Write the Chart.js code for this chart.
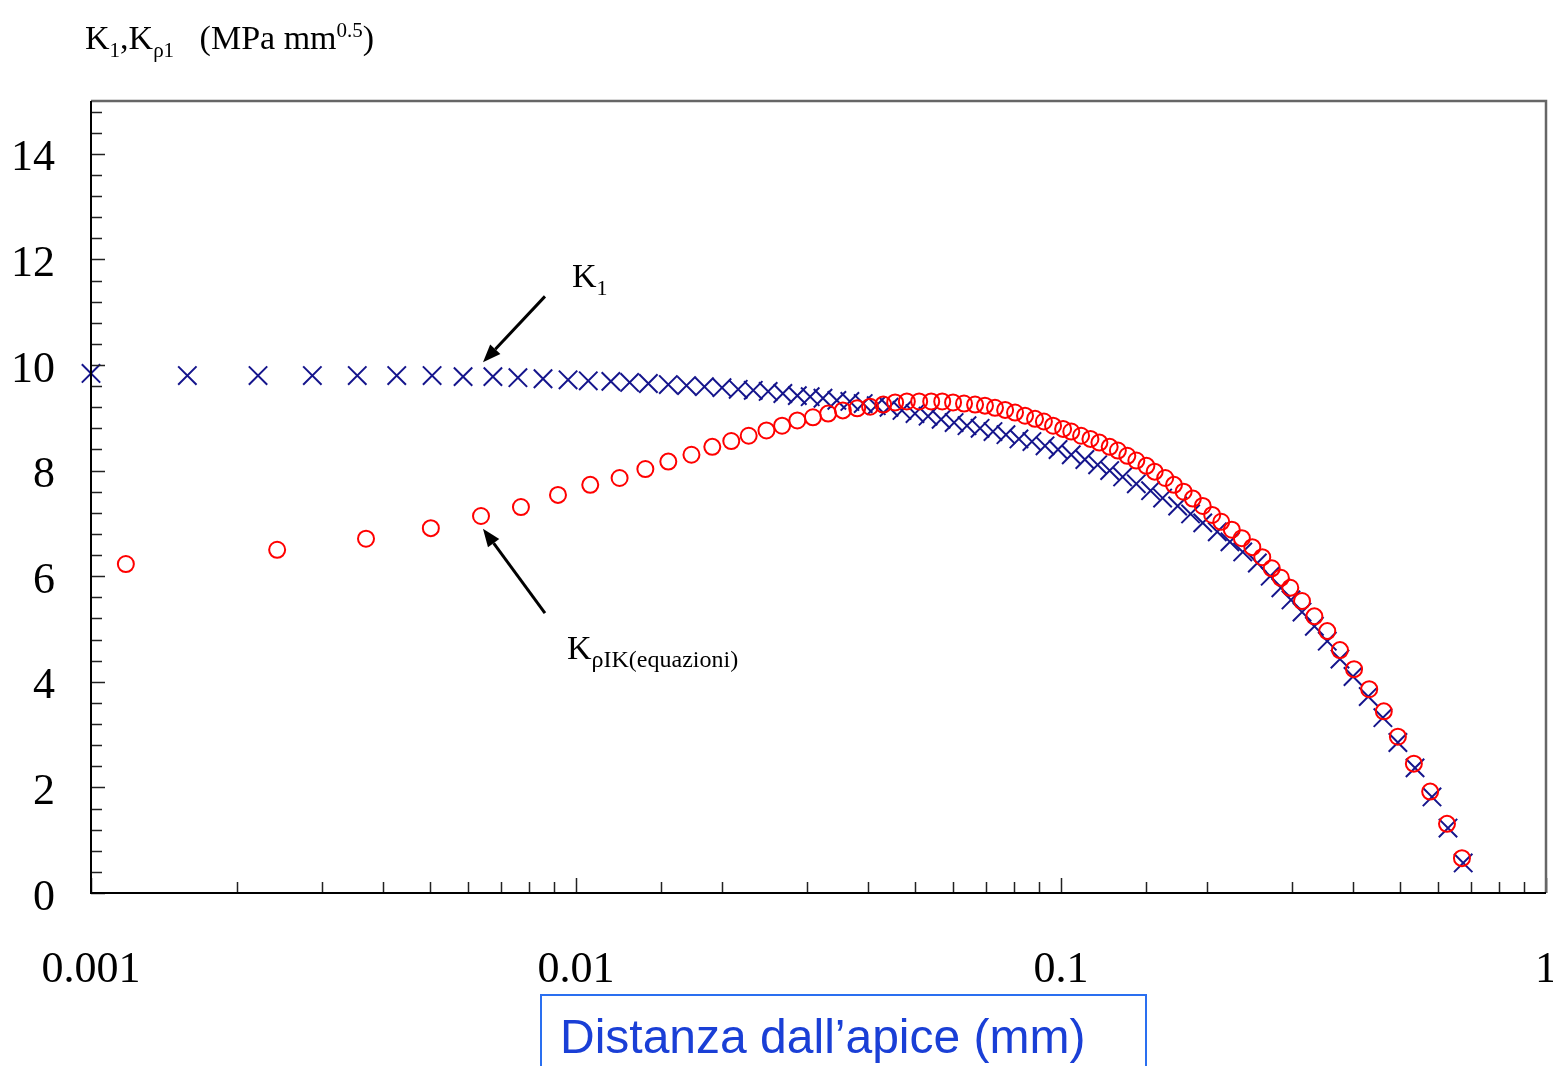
<!DOCTYPE html>
<html lang="it">
<head>
<meta charset="UTF-8">
<title>K1 e K rho - distanza dall'apice</title>
<script src="https://cdn.jsdelivr.net/npm/chart.js"></script>
<style>
  html, body { margin: 0; padding: 0; background: #fff; overflow: hidden; }
  #wrap { position: relative; width: 1553px; height: 1066px; }
  #chart { position: absolute; left: 0; top: 0; }
  .lbl {
    position: absolute;
    font-family: "Liberation Serif", "Times New Roman", serif;
    color: #000;
    white-space: nowrap;
    line-height: 1;
  }
  .lbl sub, .lbl sup { line-height: 0; }
  #ytitle { left: 85px; top: 21px; font-size: 34px; }
  #ytitle sub { font-size: 21px; }
  #ytitle sup { font-size: 21px; }
  #k1 { left: 572px; top: 259px; font-size: 34px; }
  #k1 sub { font-size: 22px; }
  #krho { left: 567px; top: 631px; font-size: 34px; }
  #krho sub { font-size: 24px; }
  #xtitle {
    position: absolute;
    left: 540px; top: 994px; width: 607px; height: 100px;
    box-sizing: border-box;
    border: 2px solid #2a6ff0;
    padding: 17px 0 0 18px;
    font-family: "Liberation Sans", Arial, sans-serif;
    font-size: 48px;
    line-height: 1;
    color: #1a3fd6;
    white-space: nowrap;
  }
</style>
</head>
<body>
<div id="wrap">
  <canvas id="chart" width="1553" height="1066"></canvas>
  <div class="lbl" id="ytitle">K<sub>1</sub>,K<sub>ρ1</sub>&nbsp;&nbsp; (MPa mm<sup>0.5</sup>)</div>
  <div class="lbl" id="k1">K<sub>1</sub></div>
  <div class="lbl" id="krho">K<sub>ρIK(equazioni)</sub></div>
  <div id="xtitle">Distanza dall’apice (mm)</div>
</div>

<script>
// K1 (crosses)
const distK1 = [0.00100, 0.00158, 0.00221, 0.00286, 0.00354, 0.00427, 0.00505, 0.00585, 0.00674, 0.00759,
  0.00855, 0.00963, 0.0106, 0.0118, 0.0129, 0.0141, 0.0155, 0.0169, 0.0184, 0.0200,
  0.0216, 0.0232, 0.0249, 0.0267, 0.0286, 0.0304, 0.0323, 0.0345, 0.0367, 0.0391,
  0.0416, 0.0442, 0.0470, 0.0500, 0.0532, 0.0566, 0.0602, 0.0640, 0.0681, 0.0724,
  0.0770, 0.0819, 0.0871, 0.0927, 0.0986, 0.105, 0.112, 0.119, 0.126, 0.134,
  0.143, 0.153, 0.162, 0.174, 0.185, 0.196, 0.210, 0.223, 0.237, 0.254,
  0.270, 0.284, 0.298, 0.314, 0.333, 0.354, 0.376, 0.400, 0.430, 0.461,
  0.495, 0.537, 0.582, 0.628, 0.675];
const valK1 = [9.84, 9.80, 9.80, 9.80, 9.80, 9.80, 9.80, 9.78, 9.78, 9.76,
  9.74, 9.72, 9.70, 9.69, 9.67, 9.65, 9.63, 9.61, 9.59, 9.57,
  9.54, 9.52, 9.50, 9.46, 9.42, 9.40, 9.37, 9.33, 9.31, 9.27,
  9.23, 9.20, 9.14, 9.08, 9.03, 8.97, 8.91, 8.85, 8.80, 8.74,
  8.68, 8.60, 8.55, 8.47, 8.40, 8.30, 8.21, 8.11, 8.00, 7.88,
  7.75, 7.62, 7.48, 7.33, 7.18, 7.01, 6.84, 6.65, 6.46, 6.25,
  6.00, 5.78, 5.55, 5.32, 5.05, 4.77, 4.43, 4.10, 3.72, 3.32,
  2.85, 2.37, 1.82, 1.23, 0.57];

// K rho IK from the equations (circles)
const distKrho = [0.00118, 0.00242, 0.00369, 0.00502, 0.00637, 0.00770, 0.00918, 0.0107, 0.0123, 0.0139,
  0.0155, 0.0173, 0.0191, 0.0209, 0.0227, 0.0247, 0.0266, 0.0286, 0.0308, 0.0331,
  0.0355, 0.0380, 0.0404, 0.0430, 0.0455, 0.0481, 0.0510, 0.0540, 0.0569, 0.0599,
  0.0631, 0.0665, 0.0697, 0.0731, 0.0767, 0.0804, 0.0843, 0.0884, 0.0922, 0.0963,
  0.101, 0.105, 0.110, 0.115, 0.120, 0.126, 0.131, 0.137, 0.143, 0.150,
  0.156, 0.164, 0.171, 0.179, 0.187, 0.196, 0.205, 0.214, 0.225, 0.236,
  0.248, 0.260, 0.272, 0.284, 0.297, 0.314, 0.333, 0.354, 0.376, 0.402,
  0.432, 0.463, 0.495, 0.534, 0.577, 0.625, 0.671];
const valKrho = [6.23, 6.50, 6.71, 6.91, 7.14, 7.31, 7.54, 7.73, 7.86, 8.03,
  8.17, 8.30, 8.45, 8.56, 8.66, 8.76, 8.85, 8.95, 9.01, 9.08,
  9.14, 9.18, 9.21, 9.25, 9.29, 9.31, 9.31, 9.31, 9.31, 9.29,
  9.27, 9.25, 9.23, 9.19, 9.15, 9.10, 9.04, 8.98, 8.93, 8.85,
  8.79, 8.74, 8.66, 8.60, 8.53, 8.45, 8.38, 8.28, 8.19, 8.09,
  7.98, 7.86, 7.73, 7.60, 7.47, 7.33, 7.16, 7.03, 6.88, 6.72,
  6.55, 6.36, 6.15, 5.97, 5.78, 5.53, 5.24, 4.96, 4.60, 4.24,
  3.86, 3.44, 2.96, 2.45, 1.92, 1.31, 0.66];

const xTickLabels = ['0.001', '0.01', '0.1', '1'];
const yTickLabels = ['0', '2', '4', '6', '8', '10', '12', '14'];

const toPoints = (xs, ys) => xs.map((x, i) => ({ x: x, y: ys[i] }));
const isDecade = v => Math.abs(Math.log10(v) - Math.round(Math.log10(v))) < 1e-6;
const tickFont = { family: '"Liberation Serif", "Times New Roman", serif', size: 44 };

// arrows pointing at the two series (data coordinates)
const arrows = [
  { from: { x: 0.00863, y: 11.30 }, to: { x: 0.00643, y: 10.05 } },
  { from: { x: 0.00863, y: 5.30 }, to: { x: 0.00643, y: 6.90 } }
];

const frameAndTicks = {
  id: 'frameAndTicks',
  afterDraw(chart) {
    const { ctx, chartArea: a, scales: { x, y } } = chart;
    ctx.save();
    // inward tick marks
    ctx.strokeStyle = '#222';
    ctx.lineWidth = 1.5;
    ctx.beginPath();
    x.ticks.forEach(t => {
      const px = Math.round(x.getPixelForValue(t.value)) + 0.5;
      const len = isDecade(t.value) ? 15 : 11;
      ctx.moveTo(px, a.bottom);
      ctx.lineTo(px, a.bottom - len);
    });
    y.ticks.forEach(t => {
      const py = Math.round(y.getPixelForValue(t.value)) + 0.5;
      const len = Math.abs(t.value / 2 - Math.round(t.value / 2)) < 1e-6 ? 14 : 11;
      ctx.moveTo(a.left, py);
      ctx.lineTo(a.left + len, py);
    });
    ctx.stroke();

    // frame: top/right grey, left/bottom black
    ctx.lineWidth = 2.5;
    ctx.strokeStyle = '#666';
    ctx.beginPath();
    ctx.moveTo(a.left, a.top);
    ctx.lineTo(a.right, a.top);
    ctx.lineTo(a.right, a.bottom);
    ctx.stroke();
    ctx.lineWidth = 2;
    ctx.strokeStyle = '#000';
    ctx.beginPath();
    ctx.moveTo(a.left, a.top);
    ctx.lineTo(a.left, a.bottom);
    ctx.lineTo(a.right, a.bottom);
    ctx.stroke();

    // arrows
    ctx.fillStyle = '#000';
    ctx.strokeStyle = '#000';
    ctx.lineWidth = 3;
    arrows.forEach(ar => {
      const x0 = x.getPixelForValue(ar.from.x), y0 = y.getPixelForValue(ar.from.y);
      const x1 = x.getPixelForValue(ar.to.x), y1 = y.getPixelForValue(ar.to.y);
      const ang = Math.atan2(y1 - y0, x1 - x0);
      const head = 18, half = 7;
      const bx = x1 - head * Math.cos(ang), by = y1 - head * Math.sin(ang);
      ctx.beginPath();
      ctx.moveTo(x0, y0);
      ctx.lineTo(bx, by);
      ctx.stroke();
      ctx.beginPath();
      ctx.moveTo(x1, y1);
      ctx.lineTo(bx + half * Math.sin(ang), by - half * Math.cos(ang));
      ctx.lineTo(bx - half * Math.sin(ang), by + half * Math.cos(ang));
      ctx.closePath();
      ctx.fill();
    });
    ctx.restore();
  }
};

new Chart(document.getElementById('chart'), {
  type: 'scatter',
  data: {
    datasets: [
      {
        label: 'KρIK(equazioni)',
        data: toPoints(distKrho, valKrho),
        pointStyle: 'circle',
        pointRadius: 8,
        borderWidth: 2,
        borderColor: '#ff0000',
        backgroundColor: 'rgba(0,0,0,0)',
        clip: false,
        order: 0
      },
      {
        label: 'K1',
        data: toPoints(distK1, valK1),
        pointStyle: 'crossRot',
        pointRadius: 13,
        borderWidth: 2,
        borderColor: '#15158c',
        backgroundColor: '#15158c',
        clip: false,
        order: 1
      }
    ]
  },
  options: {
    responsive: false,
    animation: false,
    layout: { autoPadding: false, padding: { left: 0, right: 7, top: 101, bottom: 0 } },
    plugins: {
      legend: { display: false },
      tooltip: { enabled: false }
    },
    scales: {
      x: {
        type: 'logarithmic',
        min: 0.001,
        max: 1,
        grid: { display: false, drawTicks: false },
        border: { display: false },
        ticks: {
          autoSkip: false,
          maxRotation: 0,
          padding: 51,
          color: '#000',
          font: tickFont,
          callback: v => xTickLabels.find(s => Math.abs(Math.log10(+s) - Math.log10(v)) < 1e-6) || ''
        },
        afterFit: s => { s.height = 173; s.paddingLeft = 0; s.paddingRight = 0; }
      },
      y: {
        min: 0,
        max: 15,
        grid: { display: false, drawTicks: false },
        border: { display: false },
        ticks: {
          stepSize: 0.4,
          includeBounds: false,
          autoSkip: false,
          padding: 36,
          labelOffset: 5,
          color: '#000',
          font: tickFont,
          callback: v => yTickLabels.find(s => Math.abs(+s - v) < 1e-6) || ''
        },
        afterFit: s => { s.width = 91; s.paddingTop = 0; s.paddingBottom = 0; }
      }
    }
  },
  plugins: [frameAndTicks]
});
</script>
</body>
</html>
